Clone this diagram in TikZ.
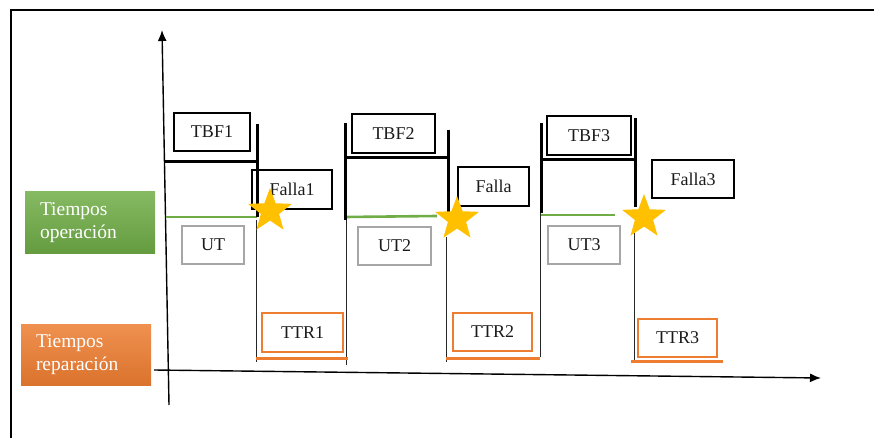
\documentclass[tikz,border=0pt]{standalone}
\usepackage{fontspec}
\setmainfont{Liberation Serif}
\usetikzlibrary{arrows.meta,shapes.geometric}
\definecolor{txt}{HTML}{1A1A1A}
\definecolor{grn}{HTML}{70AD47}
\definecolor{org}{HTML}{ED7D31}
\definecolor{gry}{HTML}{A6A6A6}
\definecolor{gold}{HTML}{FFC000}
\tikzset{
  lbl/.style={rectangle, line width=1.7pt, inner sep=0pt, text=txt, font=\fontsize{18}{20}\selectfont},
  blackbox/.style={lbl, draw=black},
  graybox/.style={lbl, draw=gry},
  orangebox/.style={lbl, draw=org},
  sidebox/.style={rectangle, inner sep=0pt, minimum width=130pt, minimum height=61pt, text=white,
     font=\fontsize{19.5}{23}\selectfont, align=left, text width=100pt},
  bracket/.style={line width=3pt, black},
  thin/.style={line width=1pt, black!85},
  greenline/.style={line width=2.6pt, grn},
  orangeline/.style={line width=3pt, org},
  axis/.style={line width=1.4pt, black, -{Latex[length=11pt,width=9pt]}},
  starshape/.style={star, star points=5, star point ratio=2.4, fill=gold, draw=none, inner sep=0pt, minimum size=46pt}
}
\begin{document}
\begin{tikzpicture}[x=1pt,y=-1pt]
\useasboundingbox (0,0) rectangle (874,438);
% frame
\coordinate (fbl) at (10.5,440);
\coordinate (ftl) at (10.5,10);
\coordinate (ftr) at (876,10);
\draw[line width=2pt] (fbl) -- (ftl) -- (ftr);

% side labels
\node[sidebox, top color=grn!85!white, bottom color=grn!90!black] (op) at (90,222.5) {Tiempos\\operación};
\node[sidebox, top color=org!85!white, bottom color=org!92!black] (rep) at (86,354.5) {Tiempos\\reparación};

% axes
\coordinate (ya) at (169,405);
\coordinate (yb) at (162,30);
\coordinate (xa) at (154,370);
\coordinate (xb) at (821,378);
\draw[axis] (ya) -- (yb);
\draw[axis] (xa) -- (xb);

% coordinates
\coordinate (b1l) at (165,162); \coordinate (b1r) at (257,162);
\coordinate (v1t) at (257,124); \coordinate (v1b) at (257,217);
\coordinate (g1a) at (166,217); \coordinate (g1b) at (257,217);
\coordinate (t1a) at (256,220); \coordinate (t1b) at (256,362);
\coordinate (u1a) at (256,358); \coordinate (u1b) at (348,358);

\coordinate (w2t) at (345,123); \coordinate (w2b) at (345,220);
\coordinate (s2a) at (346,220); \coordinate (s2b) at (346,365);
\coordinate (b2l) at (345,158); \coordinate (b2r) at (449,158);
\coordinate (v2t) at (448,130); \coordinate (v2b) at (448,220);
\coordinate (g2a) at (345,217); \coordinate (g2b) at (437,216);
\coordinate (t2a) at (446,237); \coordinate (t2b) at (446,362);
\coordinate (u2a) at (446,358); \coordinate (u2b) at (540,358);

\coordinate (w3t) at (541,123); \coordinate (w3b) at (541,213);
\coordinate (s3a) at (540,213); \coordinate (s3b) at (540,357);
\coordinate (b3l) at (541,160); \coordinate (b3r) at (636,160);
\coordinate (v3t) at (635,118); \coordinate (v3b) at (635,207);
\coordinate (g3a) at (541,215); \coordinate (g3b) at (615,215);
\coordinate (t3a) at (634,232); \coordinate (t3b) at (634,360);
\coordinate (u3a) at (631,361); \coordinate (u3b) at (723,361);

% thin verticals
\draw[thin] (t1a) -- (t1b);
\draw[thin] (s2a) -- (s2b);
\draw[thin] (t2a) -- (t2b);
\draw[thin] (s3a) -- (s3b);
\draw[thin] (t3a) -- (t3b);

% green operating lines
\draw[greenline] (g1a) -- (g1b);
\draw[greenline] (g2a) -- (g2b);
\draw[greenline] (g3a) -- (g3b);

% orange repair lines
\draw[orangeline] (u1a) -- (u1b);
\draw[orangeline] (u2a) -- (u2b);
\draw[orangeline] (u3a) -- (u3b);

% boxes
\node[blackbox, minimum width=76pt, minimum height=38pt] (tbf1) at (212,132) {TBF1};
\node[blackbox, minimum width=83pt, minimum height=39pt] (tbf2) at (393.5,133.5) {TBF2};
\node[blackbox, minimum width=84pt, minimum height=39pt] (tbf3) at (589,135.5) {TBF3};
\node[blackbox, minimum width=80pt, minimum height=39pt] (f1) at (292,189.5) {Falla1};
\node[blackbox, minimum width=71pt, minimum height=39pt] (f2) at (493.5,186.5) {Falla};
\node[blackbox, minimum width=82pt, minimum height=38pt] (f3) at (693,179) {Falla3};
\node[graybox, minimum width=62pt, minimum height=38pt] (ut1) at (213,245) {UT};
\node[graybox, minimum width=73pt, minimum height=38pt] (ut2) at (394.5,246) {UT2};
\node[graybox, minimum width=72pt, minimum height=38pt] (ut3) at (584,245) {UT3};
\node[orangebox, minimum width=81pt, minimum height=39pt] (ttr1) at (302.5,332.5) {TTR1};
\node[orangebox, minimum width=79pt, minimum height=38pt] (ttr2) at (492.5,332) {TTR2};
\node[orangebox, minimum width=79pt, minimum height=38pt] (ttr3) at (677.5,338) {TTR3};

% brackets
\draw[bracket] (b1l) -- (b1r);
\draw[bracket] (v1t) -- (v1b);
\draw[bracket] (w2t) -- (w2b);
\draw[bracket] (b2l) -- (b2r);
\draw[bracket] (v2t) -- (v2b);
\draw[bracket] (w3t) -- (w3b);
\draw[bracket] (b3l) -- (b3r);
\draw[bracket] (v3t) -- (v3b);

% stars
\node[starshape] (st1) at (270,211) {};
\node[starshape] (st2) at (457,219) {};
\node[starshape] (st3) at (644,217) {};
\end{tikzpicture}
\end{document}
